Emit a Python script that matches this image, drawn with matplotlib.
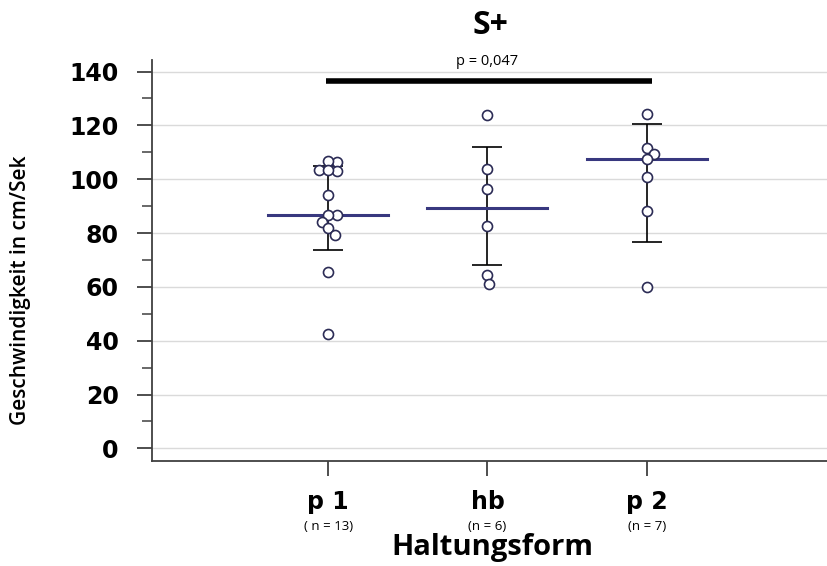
import numpy as np
import matplotlib
matplotlib.use('Agg')
import matplotlib.pyplot as plt

# Werte
gruppen = ['p 1', 'hb', 'p 2']
n_labels = ['( n = 13)', '(n = 6)', '(n = 7)']
werte_p1 = [106.5, 106.9, 103.1, 103.5, 103.5, 94.1, 86.6, 86.6, 84.2, 81.8, 79.4, 65.5, 42.4]
werte_hb = [123.9, 103.8, 96.3, 82.6, 64.3, 61.0]
werte_p2 = [124.3, 111.5, 109.4, 107.4, 100.7, 88.3, 60.1]
fehler_unten = [73.8, 68.1, 76.8]
fehler_oben = [104.9, 111.9, 120.4]
p_text = 'p = 0,047'
p_hoehe = 136.5

alle_werte = [werte_p1, werte_hb, werte_p2]
mediane = [np.median(w) for w in alle_werte]
pos = np.arange(len(gruppen))

fig = plt.figure(figsize=(8.28, 5.66), dpi=100)
ax = fig.add_axes([0.1836, 0.186, 0.8164, 0.708])
ax.set_ylim(-4.6, 144.3)
ax.set_xlim(-1.107, 3.139)

# Pixel pro Dateneinheit (fuer den Schwarm)
bbox = ax.get_window_extent()
px_x = bbox.width / (3.139 + 1.107)
px_y = bbox.height / (144.3 + 4.6)


def schwarm(werte, d=9.0):
    # einfacher Beeswarm: Punkte so nah wie moeglich an die Mitte
    werte = np.asarray(werte)
    offs = np.zeros(len(werte))
    gesetzt = []
    for i in np.argsort(werte)[::-1]:
        y = werte[i] * px_y
        for k in range(400):
            ok = False
            for x in (k * 0.5, -k * 0.5):
                if all((x - gx) ** 2 + (y - gy) ** 2 >= d ** 2 for gx, gy in gesetzt):
                    ok = True
                    break
            if ok:
                break
        gesetzt.append((x, y))
        offs[i] = x / px_x
    return offs


ax.set_yticks(np.arange(0, 141, 20))
ax.set_yticks(np.arange(10, 141, 20), minor=True)
ax.grid(axis='y', which='major', color='#dadada', linewidth=1)
ax.set_axisbelow(True)

for i, w in enumerate(alle_werte):
    ax.scatter(pos[i] + schwarm(w), w, s=52, facecolor='white', edgecolor='#2b2b55',
               linewidth=1.2, zorder=4)
    ax.plot([pos[i] - 0.377, pos[i] + 0.377], [mediane[i], mediane[i]],
            color='#38387f', linewidth=2.2, zorder=3)

ax.errorbar(pos, mediane,
            yerr=[np.array(mediane) - np.array(fehler_unten), np.array(fehler_oben) - np.array(mediane)],
            fmt='none', ecolor='black', elinewidth=1.2, capsize=11, capthick=1.2, zorder=2)

# Signifikanzbalken
ax.plot([pos[0] - 0.014, pos[2] + 0.031], [p_hoehe, p_hoehe], color='black', linewidth=4,
        solid_capstyle='butt', zorder=5)
ax.text((pos[0] + pos[2]) / 2, 142.5, p_text, ha='center', va='baseline',
        fontsize=10.5, family='Open Sans', clip_on=False)

for s in ['top', 'right']:
    ax.spines[s].set_visible(False)
for s in ['left', 'bottom']:
    ax.spines[s].set_color('#404040')
    ax.spines[s].set_linewidth(1.3)

ax.tick_params(axis='y', which='major', length=11, width=1.3, color='#404040', labelsize=17, pad=13)
ax.tick_params(axis='y', which='minor', length=7, width=1.1, color='#404040')
ax.tick_params(axis='x', length=11, width=1.3, color='#404040', labelsize=17, pad=10)
for lab in ax.get_yticklabels():
    lab.set_fontweight('bold')
    lab.set_family('DejaVu Sans')

ax.set_xticks(pos)
ax.set_xticklabels(gruppen, fontweight='bold', family='DejaVu Sans')
for i in range(len(gruppen)):
    ax.annotate(n_labels[i], xy=(pos[i], 0), xycoords=('data', 'axes fraction'),
                xytext=(0, -47), textcoords='offset points', ha='center', va='center',
                fontsize=9.5, family='Open Sans', annotation_clip=False)

ax.set_xlabel('Haltungsform', fontsize=21, fontweight='bold', family='Open Sans', va='baseline')
ax.xaxis.set_label_coords(0.504, -0.2353)
ax.set_ylabel('Geschwindigkeit in cm/Sek', fontsize=15, fontweight='semibold', family='Open Sans', va='center')
ax.yaxis.set_label_coords(-0.195, 0.426)
ax.set_title('S+', fontsize=23, fontweight='bold', family='Open Sans', pad=19)

fig.savefig('out.png', dpi=100)
